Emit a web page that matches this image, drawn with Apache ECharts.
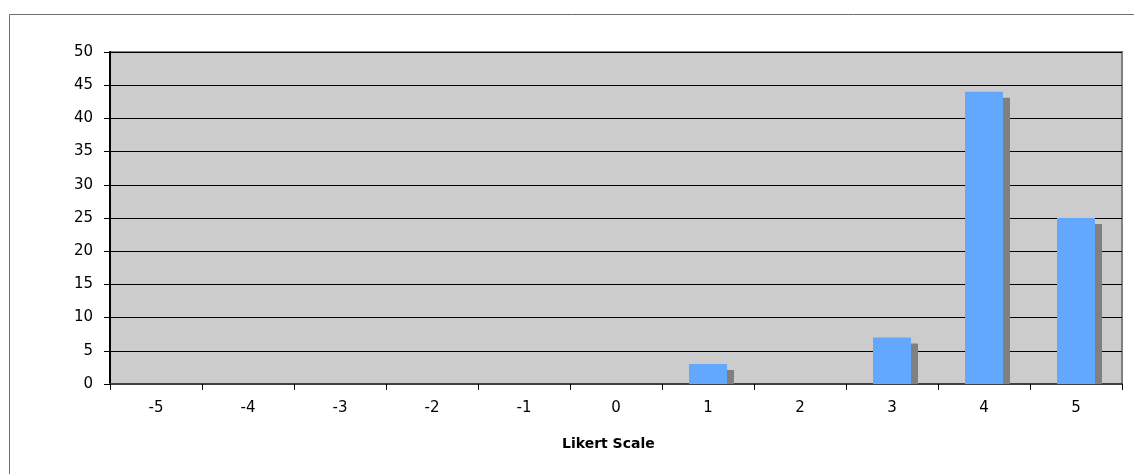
<!DOCTYPE html>
<html>
<head>
<meta charset="utf-8">
<title>Likert Scale</title>
<script src="https://cdn.jsdelivr.net/npm/echarts@6/dist/echarts.min.js"></script>
<style>
    html, body { margin: 0; padding: 0; background: #fff; }
    #chart { width: 1134px; height: 474px; }
</style>
</head>
<body>
<div id="chart"></div>
<script>
(function () {
    'use strict';

    // Likert scale categories and response counts
    var categories = ['-5', '-4', '-3', '-2', '-1', '0', '1', '2', '3', '4', '5'];
    var counts = [0, 0, 0, 0, 0, 0, 3, 0, 7, 44, 25];
    var yTicks = { min: 0, max: 50, step: 5 };

    var font = 'DejaVu Sans, Verdana, sans-serif';

    var myChart = echarts.init(document.getElementById('chart'));

    // Excel-style drop shadow behind each bar, clipped at the axis
    var renderShadow = function (params, api) {
        var val = api.value(1);
        if (!val) {
            return null;
        }
        var top = api.coord([api.value(0), val]);
        var base = api.coord([api.value(0), 0]);
        var w = api.size([1, 0])[0] * 0.413;
        return {
            type: 'rect',
            shape: {
                x: top[0] - w / 2 + 7,
                y: top[1] + 6,
                width: w,
                height: Math.max(0, base[1] - top[1] - 6)
            },
            style: { fill: '#808080' }
        };
    };

    var option = {
        animation: false,
        backgroundColor: '#ffffff',
        textStyle: { fontFamily: font },
        title: {
            text: 'Likert Scale',
            left: 557,
            top: 432,
            textStyle: { fontFamily: font, fontSize: 14, fontWeight: 'bold', color: '#000' }
        },
        graphic: [{
            type: 'rect',
            shape: { x: 9.5, y: 14.5, width: 1200, height: 600 },
            style: { fill: 'none', stroke: '#6e6e6e', lineWidth: 1 },
            silent: true
        }],
        grid: {
            left: 110,
            top: 52,
            right: 12,
            bottom: 90,
            show: true,
            backgroundColor: '#cccccc',
            borderColor: '#808080',
            borderWidth: 2
        },
        xAxis: {
            type: 'category',
            data: categories,
            boundaryGap: true,
            axisLine: { lineStyle: { color: '#404040', width: 2 } },
            axisTick: { show: true, length: 6, alignWithLabel: false, lineStyle: { color: '#000' } },
            axisLabel: { color: '#000', fontSize: 15, margin: 17, fontFamily: font },
            splitLine: { show: false }
        },
        yAxis: {
            type: 'value',
            min: yTicks.min,
            max: yTicks.max,
            interval: yTicks.step,
            axisLine: { show: true, lineStyle: { color: '#000', width: 2 } },
            axisTick: { show: true, length: 6, lineStyle: { color: '#000' } },
            axisLabel: { color: '#000', fontSize: 15, margin: 17, fontFamily: font },
            splitLine: { show: true, lineStyle: { color: '#000', width: 1 } }
        },
        series: [{
            type: 'custom',
            renderItem: renderShadow,
            data: counts.map(function (v, i) { return [i, v]; }),
            z: 1,
            silent: true
        }, {
            type: 'bar',
            data: counts,
            barWidth: '41.3%',
            itemStyle: { color: '#62a8ff' },
            z: 2
        }]
    };

    myChart.setOption(option);
})();
</script>
</body>
</html>
